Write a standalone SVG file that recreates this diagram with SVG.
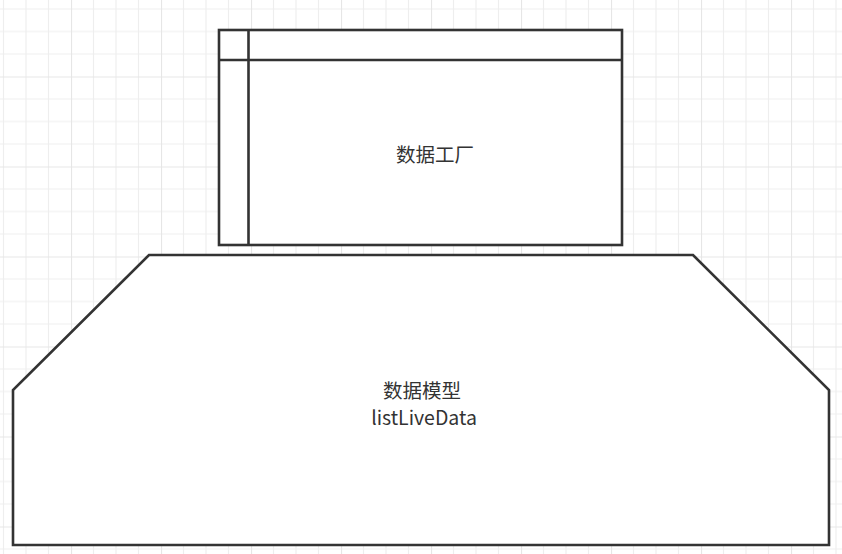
<svg xmlns="http://www.w3.org/2000/svg" width="842" height="554" viewBox="0 0 842 554">
  <defs>
    <pattern id="grid" patternUnits="userSpaceOnUse" x="71" y="76.5" width="90" height="90">
      <path d="M22.5 0V90M45 0V90M67.5 0V90M0 22.5H90M0 45H90M0 67.5H90" stroke="#eeeeee" stroke-width="1.2" fill="none"/>
      <path d="M0.5 0V90M0 0.5H90" stroke="#e6e6e6" stroke-width="1.2" fill="none"/>
    </pattern>
  </defs>
  <style>
    .shape { fill: #ffffff; stroke: #333333; stroke-width: 2.6; }
    .line { fill: none; stroke: #333333; stroke-width: 2.6; }
    .label { font-family: "Microsoft YaHei", "Noto Sans CJK SC", "Liberation Sans", sans-serif; font-size: 19.5px; fill: #333333; text-anchor: middle; }
  </style>
  <rect width="842" height="554" fill="#ffffff"/>
  <rect width="842" height="554" fill="url(#grid)"/>
  <g id="data-factory">
    <rect class="shape" x="219" y="30" width="403" height="215"/>
    <path class="line" d="M248.5 30V245M219 60H622"/>
    <text class="label" x="435" y="162">数据工厂</text>
  </g>
  <g id="data-model">
    <path class="shape" d="M149 255H693L829 390V545H13V390Z"/>
    <text class="label" x="422" y="398">数据模型</text>
    <text class="label" x="424" y="425">listLiveData</text>
  </g>
  <g id="connectors"></g>
</svg>
